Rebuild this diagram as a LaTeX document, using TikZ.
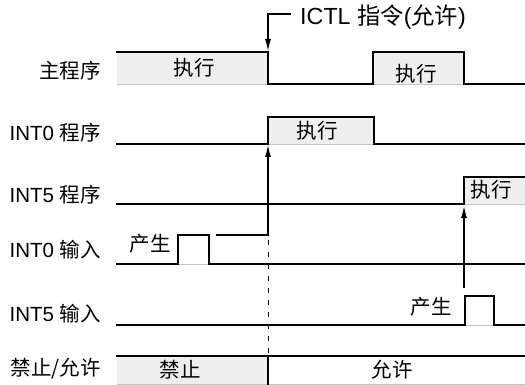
\documentclass[tikz,border=0pt]{standalone}
\usepackage{fontspec}
\setmainfont{Liberation Sans}
\newfontfamily\cjk{Noto Sans CJK SC}
\usetikzlibrary{arrows.meta}
\definecolor{fillgray}{HTML}{EEEEEE}
\definecolor{basegray}{HTML}{C4C4C4}
\begin{document}
\begin{tikzpicture}[x=1pt,y=-1pt,
  sig/.style={line width=2pt, line join=miter, line cap=rect},
  base/.style={draw=basegray, line width=0.8pt},
  conn/.style={line width=1.1pt, -{Latex[length=12pt,width=6pt]}},
  lbl/.style={anchor=east, font=\fontsize{20.5}{22}\selectfont, inner sep=0pt},
  txt/.style={font=\fontsize{20.5}{22}\selectfont\cjk, inner sep=0pt},
  big/.style={anchor=west, font=\fontsize{23.3}{25}\selectfont, inner sep=0pt}]
\useasboundingbox (0,0) rectangle (525,385);
% fills
\fill[fillgray] (117,52) rectangle (268,84);
\fill[fillgray] (373,52) rectangle (464,84);
\fill[fillgray] (268,117) rectangle (374,144);
\fill[fillgray] (464,177) rectangle (525,204);
\fill[fillgray] (117,356) rectangle (268,384);
% baselines
\draw[base] (117,84) -- (268,84);
\draw[base] (373,84) -- (464,84);
\draw[base] (268,144) -- (374,144);
\draw[base] (464,204) -- (525,204);
\draw[base] (178,264) -- (209,264);
\draw[base] (465,325) -- (494,325);
\draw[base] (117,384) -- (525,384);
% signals
\draw[sig] (117,52) -- (268,52) -- (268,84) -- (373,84) -- (373,52) -- (464,52) -- (464,84) -- (525,84);
\draw[sig] (117,144) -- (268,144) -- (268,117) -- (374,117) -- (374,144) -- (525,144);
\draw[sig] (117,204) -- (464,204) -- (464,177) -- (525,177);
\draw[sig] (117,264) -- (178,264) -- (178,235) -- (209,235) -- (209,264) -- (525,264);
\draw[sig] (117,325) -- (465,325) -- (465,296) -- (494,296) -- (494,325) -- (525,325);
\draw[sig] (117,356) -- (525,356);
\draw[sig] (268,356) -- (268,384);
% connectors
\coordinate (ictlA) at (291,14);
\coordinate (ictlB) at (268,14);
\coordinate (ictlC) at (268,51);
\draw[conn] (ictlA) -- (ictlB) -- (ictlC);
\coordinate (i0A) at (216,235);
\coordinate (i0B) at (268,235);
\coordinate (i0C) at (268,145);
\draw[conn] (i0A) -- (i0B) -- (i0C);
\coordinate (i5A) at (464,288);
\coordinate (i5B) at (464,206);
\draw[conn] (i5A) -- (i5B);
\coordinate (dA) at (268,240);
\coordinate (dB) at (268,355);
\draw[line width=1pt, dash pattern=on 5pt off 7pt] (dA) -- (dB);
% labels
\node[lbl] (lmain) at (101,71) {\cjk 主程序};
\node[lbl] (lint0p) at (101,133) {INT0 {\cjk 程序}};
\node[lbl] (lint5p) at (101,195) {INT5 {\cjk 程序}};
\node[lbl] (lint0i) at (101,250) {INT0 {\cjk 输入}};
\node[lbl] (lint5i) at (101,314) {INT5 {\cjk 输入}};
\node[lbl] (len) at (101,369) {\cjk 禁止/允许};
\node[txt] (e1) at (194,68) {执行};
\node[txt] (e2) at (416,74) {执行};
\node[txt] (e3) at (317,131) {执行};
\node[txt] (e4) at (491,190) {执行};
\node[txt] (g1) at (150,244) {产生};
\node[txt] (g2) at (431,307) {产生};
\node[txt] (dis) at (180,370) {禁止};
\node[txt] (ena) at (392,370) {允许};
\node[big] (ictl) at (300,17) {ICTL {\cjk 指令}({\cjk 允许})};
\end{tikzpicture}
\end{document}
